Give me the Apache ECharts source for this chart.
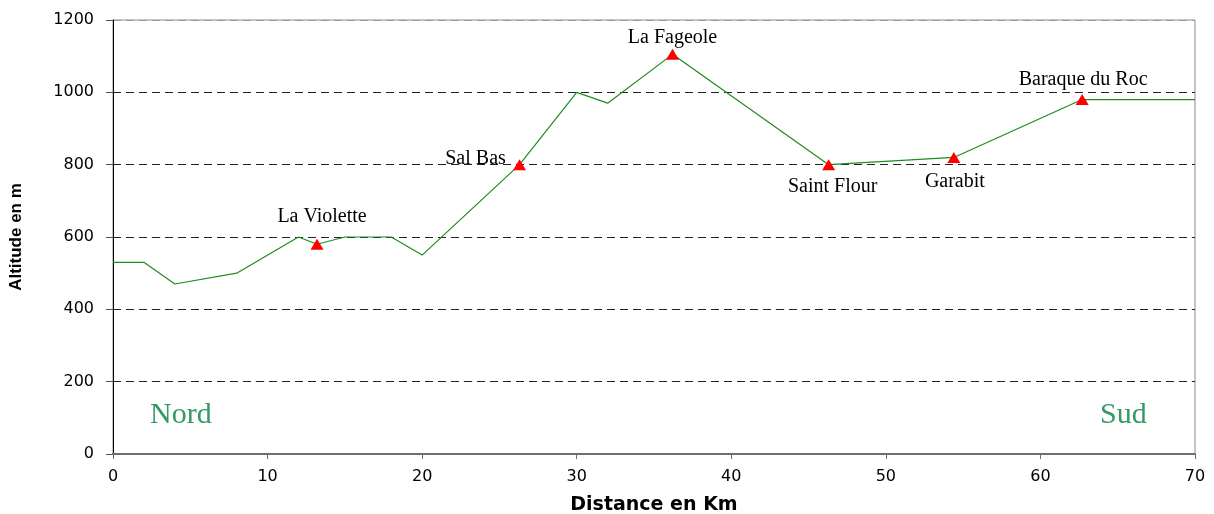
<!DOCTYPE html>
<html>
<head>
<meta charset="utf-8">
<script src="https://cdn.jsdelivr.net/npm/echarts@6/dist/echarts.min.js"></script>
<style>
  html, body { margin: 0; padding: 0; background: #fff; }
  #chart { width: 1214px; height: 514px; }
</style>
</head>
<body>
<div id="chart"></div>
<script>
// profile of the route (km, m)
const distances = [0, 2, 4, 8, 12, 13.2, 15, 18, 20, 26.3, 30, 32, 36.2, 46.3, 54.4, 62.7, 70];
const altitudes = [530, 530, 470, 500, 600, 580, 600, 600, 550, 800, 1000, 970, 1105, 800, 820, 980, 980];

// named places along the way
const placeNames = ['La Violette', 'Sal Bas', 'La Fageole', 'Saint Flour', 'Garabit', 'Baraque du Roc'];
const placeKm = [13.2, 26.3, 36.2, 46.3, 54.4, 62.7];
const placeAlt = [580, 800, 1105, 800, 820, 980];

const xTicks = [0, 10, 20, 30, 40, 50, 60, 70];
const yTicks = [0, 200, 400, 600, 800, 1000, 1200];

const chart = echarts.init(document.getElementById('chart'));

// where each place name sits relative to its marker
const labelOffsets = [[5, -27], [-44, -6], [0, -17], [4, 22], [1, 24], [1, -20]];

const sans = 'DejaVu Sans';
const serif = '"Liberation Serif", "Times New Roman", serif';

// dashed gridlines are black, the top one is only the faint plot border
const gridColors = yTicks.map((v, i) => (i === yTicks.length - 1 ? '#9a9a9a' : '#222'));

chart.setOption({
    animation: false,
    backgroundColor: '#fff',
    grid: {
        left: 113, right: 19, top: 20, bottom: 60,
        outerBoundsMode: 'none',
        containLabel: false,
        show: true, borderColor: '#8c8c8c', borderWidth: 1
    },
    xAxis: {
        type: 'value',
        min: xTicks[0],
        max: xTicks[xTicks.length - 1],
        interval: 10,
        name: 'Distance en Km',
        nameLocation: 'middle',
        nameGap: 42,
        nameTextStyle: { fontFamily: sans, fontWeight: 'bold', fontSize: 19, color: '#000' },
        axisLine: { onZero: false, lineStyle: { color: '#6e6e6e', width: 2 } },
        axisTick: { show: true, length: 5, lineStyle: { color: '#6e6e6e' } },
        axisLabel: { margin: 15, fontFamily: sans, fontSize: 16, color: '#000' },
        splitLine: { show: false }
    },
    yAxis: {
        type: 'value',
        min: yTicks[0],
        max: yTicks[yTicks.length - 1],
        interval: 200,
        name: 'Altitude en m',
        nameLocation: 'middle',
        nameGap: 88,
        nameTextStyle: { fontFamily: '"Liberation Sans", Arial', fontWeight: 'bold', fontSize: 17, color: '#000' },
        axisLine: { show: true, lineStyle: { color: '#000', width: 1 } },
        axisTick: { show: true, length: 7, lineStyle: { color: '#555' } },
        axisLabel: { margin: 19, fontFamily: sans, fontSize: 16, color: '#000', formatter: v => String(v) },
        splitLine: {
            show: true,
            lineStyle: { color: gridColors, width: 1, type: [8, 5] }
        }
    },
    series: [
        {
            type: 'line',
            data: distances.map((d, i) => [d, altitudes[i]]),
            showSymbol: false,
            lineStyle: { color: '#1e8c1e', width: 1.2 },
            z: 3
        },
        {
            type: 'scatter',
            data: placeNames.map((n, i) => ({
                name: n,
                value: [placeKm[i], placeAlt[i]],
                label: { offset: labelOffsets[i] }
            })),
            symbol: 'triangle',
            symbolSize: [13, 11],
            itemStyle: { color: '#ff0000', opacity: 1 },
            label: {
                show: true,
                position: 'inside',
                formatter: '{b}',
                fontFamily: serif,
                fontSize: 20,
                color: '#000'
            },
            z: 4
        }
    ],
    graphic: [
        {
            type: 'text', left: 150, top: 400,
            style: { text: 'Nord', font: '30px ' + serif, fill: '#339966' }
        },
        {
            type: 'text', left: 1100, top: 400,
            style: { text: 'Sud', font: '30px ' + serif, fill: '#339966' }
        }
    ]
});
</script>
</body>
</html>
